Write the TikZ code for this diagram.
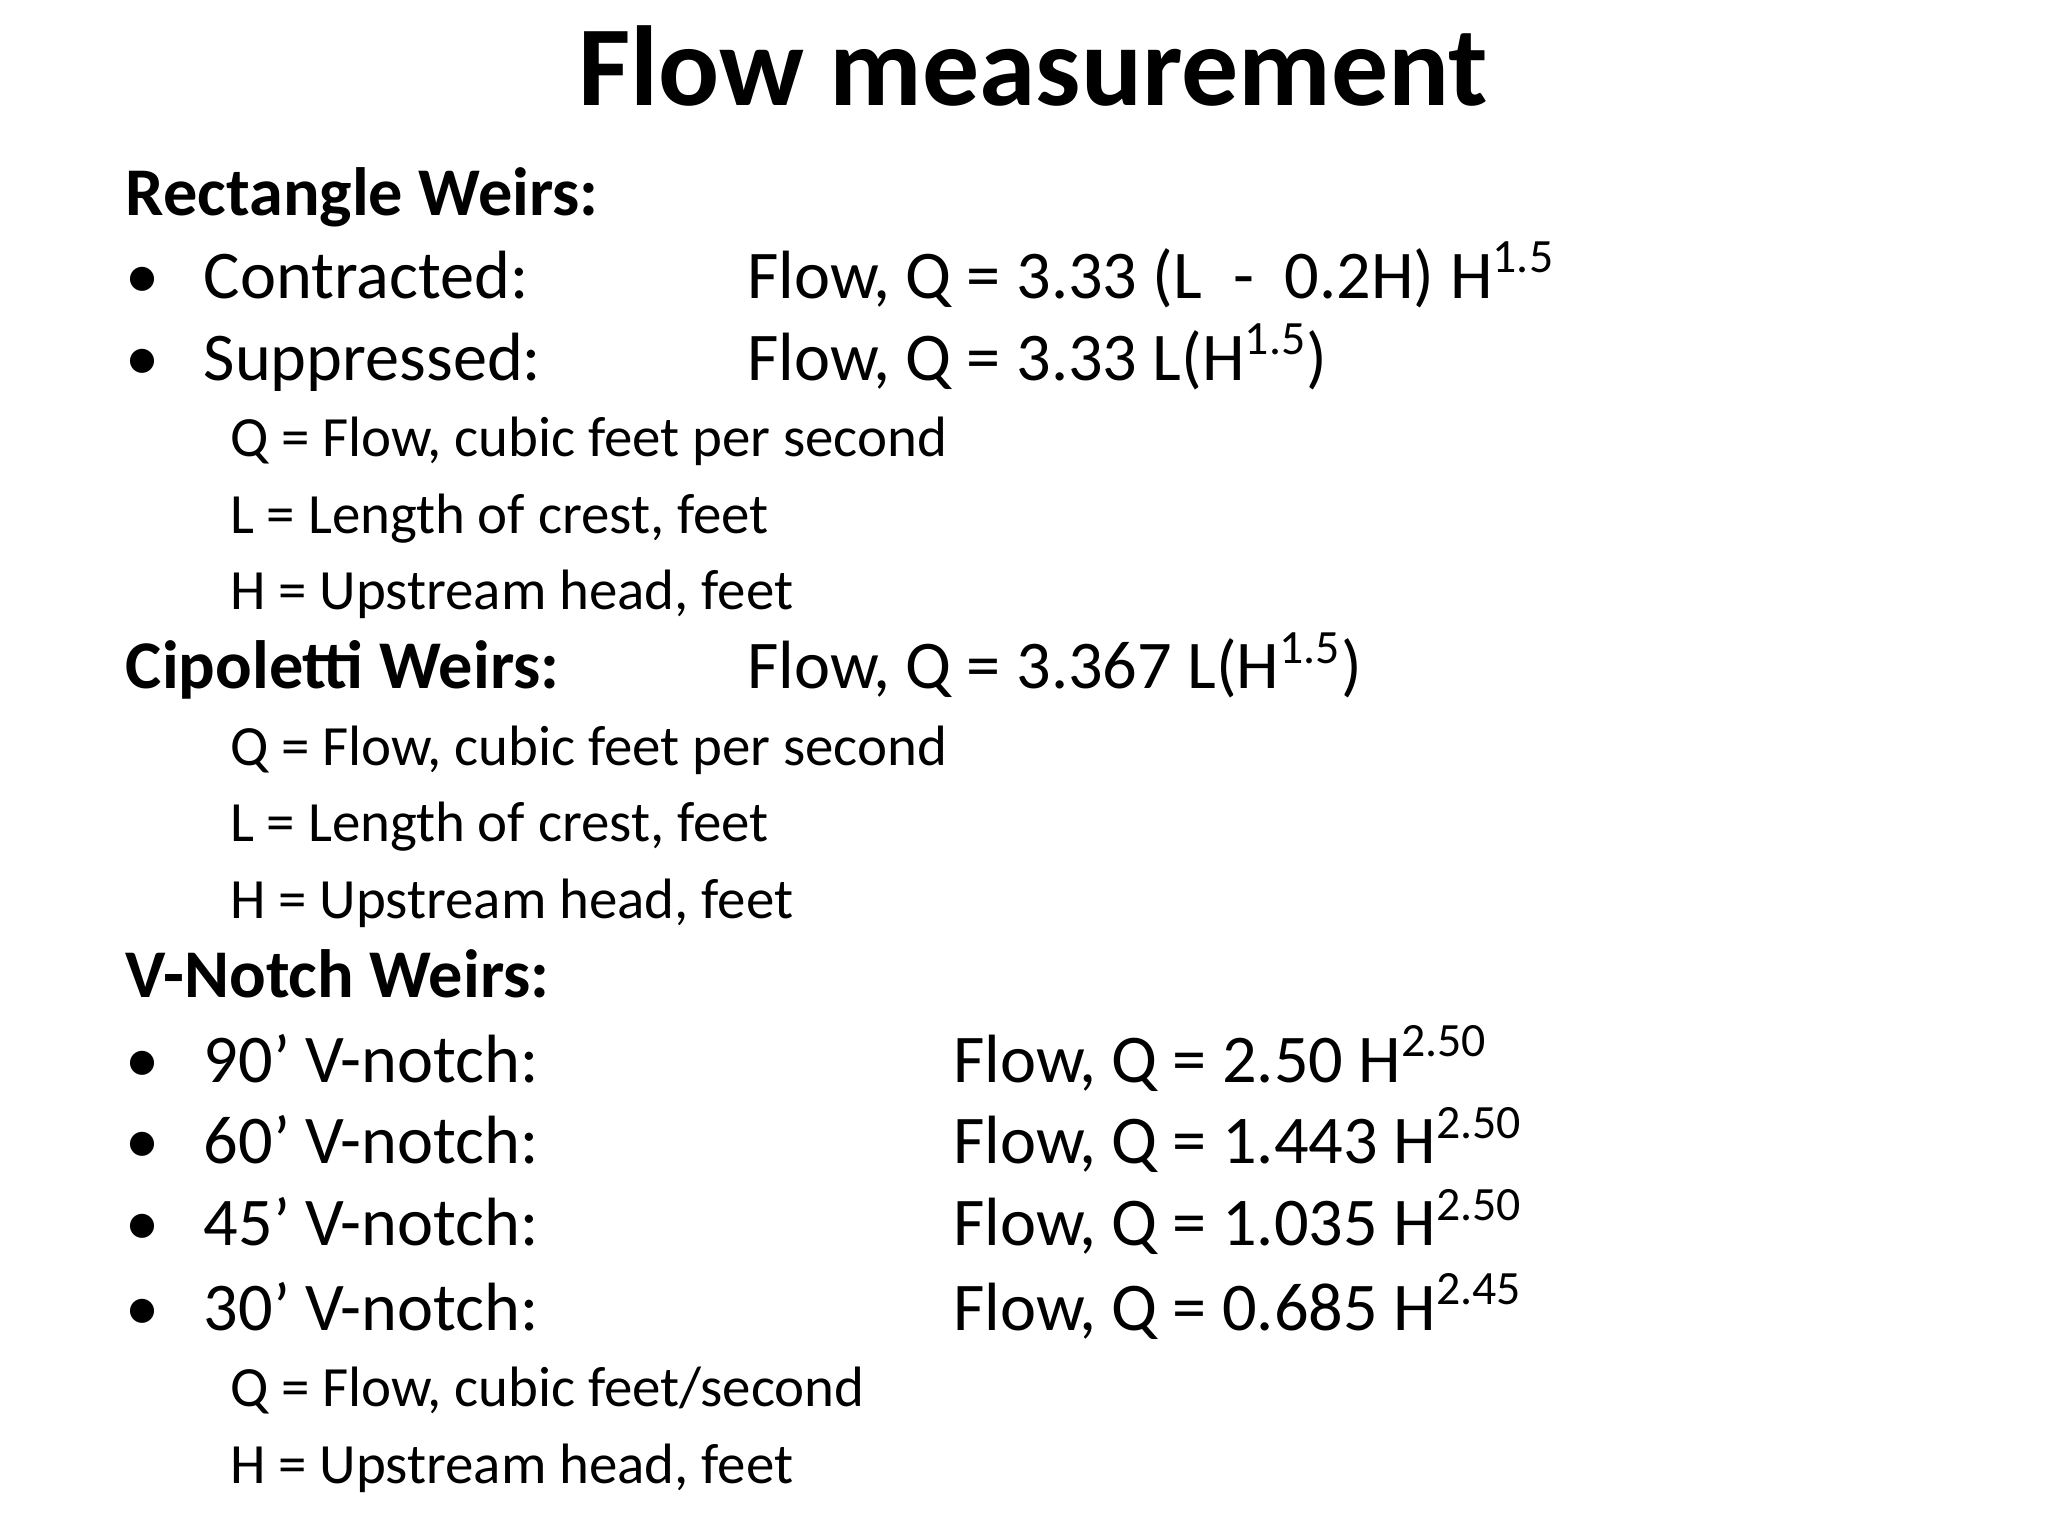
\documentclass[tikz,border=0pt]{standalone}
\usepackage{fontspec}
\setmainfont{Carlito}
\begin{document}
\begin{tikzpicture}[x={(0.4638pt,0)},y={(0,-0.4638pt)},
  big/.style={anchor=base west,inner sep=0,font=\fontsize{24}{28}\selectfont},
  hd/.style={anchor=base west,inner sep=0,font=\fontsize{24}{28}\selectfont\bfseries},
  sm/.style={anchor=base west,inner sep=0,font=\fontsize{20}{24}\selectfont}]
\useasboundingbox[fill=white] (0,0) rectangle (1552,1164);
\node[anchor=base,inner sep=0,font=\fontsize{40}{48}\selectfont\bfseries] (title) at (783,80) {Flow measurement};
\node[hd] (rw) at (95,163) {Rectangle Weirs:};
\node[big] (b1) at (95,226) {•}; \node[big] (c) at (154,226) {Contracted:};
\node[big] (cf) at (566,226) {Flow, Q = 3.33 (L\ \ -\ \ 0.2H) H\textsuperscript{1.5}};
\node[big] (b2) at (95,288) {•}; \node[big] (s) at (154,288) {Suppressed:};
\node[big] (sf) at (566,288) {Flow, Q = 3.33 L(H\textsuperscript{1.5})};
\node[sm] (q1) at (174,346) {Q = Flow, cubic feet per second};
\node[sm] (l1) at (174,404) {L = Length of crest, feet};
\node[sm] (h1) at (174,462) {H = Upstream head, feet};
\node[hd] (cw) at (95,522) {Cipoletti Weirs:};
\node[big] (cwf) at (566,522) {Flow, Q = 3.367 L(H\textsuperscript{1.5})};
\node[sm] (q2) at (174,580) {Q = Flow, cubic feet per second};
\node[sm] (l2) at (174,638) {L = Length of crest, feet};
\node[sm] (h2) at (174,696) {H = Upstream head, feet};
\node[hd] (vw) at (95,756) {V-Notch Weirs:};
\node[big] (v1b) at (95,820) {•}; \node[big] (v1) at (154,820) {90' V-notch:};
\node[big] (v1f) at (722,820) {Flow, Q = 2.50 H\textsuperscript{2.50}};
\node[big] (v2b) at (95,882) {•}; \node[big] (v2) at (154,882) {60' V-notch:};
\node[big] (v2f) at (722,882) {Flow, Q = 1.443 H\textsuperscript{2.50}};
\node[big] (v3b) at (95,944) {•}; \node[big] (v3) at (154,944) {45' V-notch:};
\node[big] (v3f) at (722,944) {Flow, Q = 1.035 H\textsuperscript{2.50}};
\node[big] (v4b) at (95,1008) {•}; \node[big] (v4) at (154,1008) {30' V-notch:};
\node[big] (v4f) at (722,1008) {Flow, Q = 0.685 H\textsuperscript{2.45}};
\node[sm] (q3) at (174,1066) {Q = Flow, cubic feet/second};
\node[sm] (h3) at (174,1124) {H = Upstream head, feet};
\end{tikzpicture}
\end{document}
